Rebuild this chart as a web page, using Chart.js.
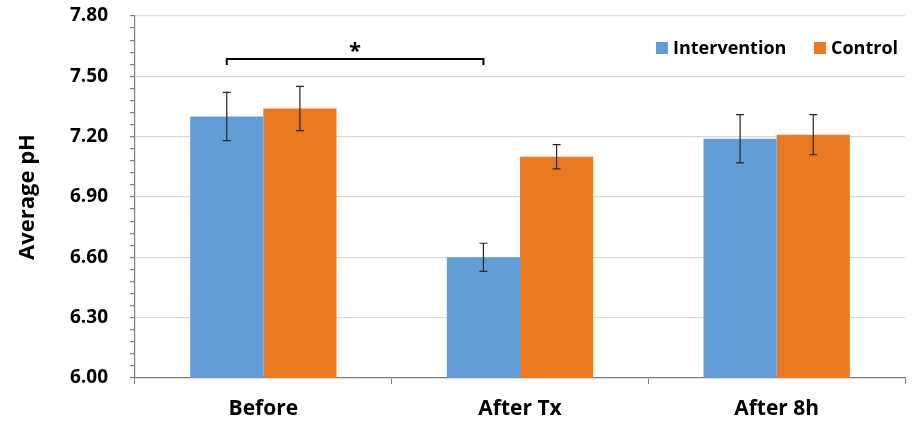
<!DOCTYPE html>
<html>
<head>
<meta charset="utf-8">
<script src="https://cdn.jsdelivr.net/npm/chart.js@4"></script>
<style>
  html, body { margin: 0; padding: 0; background: #fff; }
  #wrap { width: 912px; height: 425px; }
</style>
</head>
<body>
<div id="wrap"><canvas id="chart" width="912" height="425"></canvas></div>
<script>
/* pH before / after treatment, intervention vs control */
const categories = ["Before", "After Tx", "After 8h"];
const intervention = [7.30, 6.60, 7.19];
const interventionErr = [0.12, 0.07, 0.12];
const control = [7.34, 7.10, 7.21];
const controlErr = [0.11, 0.06, 0.10];
const yMin = 6.0, yMax = 7.8, yMajor = 0.3, yMinor = 0.06;

const FONT = "'Open Sans', 'DejaVu Sans', sans-serif";
const BLUE = "#639dd6";
const ORANGE = "#ea7a22";

const isMajor = (v) => Math.abs((v - yMin) / yMajor - Math.round((v - yMin) / yMajor)) < 1e-6;

/* ---------- error bars ---------- */
const errorBars = {
  id: "errorBars",
  afterDatasetsDraw(chart) {
    const { ctx } = chart;
    const y = chart.scales.y;
    ctx.save();
    ctx.strokeStyle = "#262626";
    ctx.lineWidth = 1.2;
    chart.data.datasets.forEach((ds, i) => {
      chart.getDatasetMeta(i).data.forEach((bar, j) => {
        const v = ds.data[j], e = ds.err[j];
        const top = y.getPixelForValue(v + e), bot = y.getPixelForValue(v - e);
        ctx.beginPath();
        ctx.moveTo(bar.x, top); ctx.lineTo(bar.x, bot);
        ctx.moveTo(bar.x - 4, top); ctx.lineTo(bar.x + 4, top);
        ctx.moveTo(bar.x - 4, bot); ctx.lineTo(bar.x + 4, bot);
        ctx.stroke();
      });
    });
    ctx.restore();
  },
};

/* ---------- significance bracket + legend ---------- */
const extras = {
  id: "extras",
  afterDraw(chart) {
    const { ctx, chartArea } = chart;
    const bars = chart.getDatasetMeta(0).data;
    const x1 = bars[0].x, x2 = bars[1].x;
    const by = chartArea.top + 43;
    ctx.save();
    ctx.strokeStyle = "#000";
    ctx.lineWidth = 2;
    ctx.beginPath();
    ctx.moveTo(x1, by + 6); ctx.lineTo(x1, by); ctx.lineTo(x2, by); ctx.lineTo(x2, by + 6);
    ctx.stroke();
    ctx.fillStyle = "#000";
    ctx.font = "bold 22px " + FONT;
    ctx.textAlign = "center";
    ctx.textBaseline = "middle";
    ctx.fillText("*", (x1 + x2) / 2, by - 7);

    // legend
    ctx.font = "bold 18px " + FONT;
    ctx.textAlign = "left";
    const ly = chartArea.top + 32;
    const items = [["Intervention", BLUE, 656], ["Control", ORANGE, 814]];
    items.forEach(([label, color, x]) => {
      ctx.fillStyle = color;
      ctx.fillRect(x, ly - 6, 12, 12);
      ctx.fillStyle = "#000";
      ctx.fillText(label, x + 17, ly + 1);
    });
    ctx.restore();
  },
};

new Chart(document.getElementById("chart"), {
  type: "bar",
  data: {
    labels: categories,
    datasets: [
      { label: "Intervention", data: intervention, err: interventionErr, backgroundColor: BLUE,
        categoryPercentage: 0.57, barPercentage: 1.0 },
      { label: "Control", data: control, err: controlErr, backgroundColor: ORANGE,
        categoryPercentage: 0.57, barPercentage: 1.0 },
    ],
  },
  options: {
    responsive: false,
    animation: false,
    layout: { padding: { top: 16, right: 7, left: 0, bottom: 0 } },
    plugins: { legend: { display: false }, tooltip: { enabled: false } },
    scales: {
      x: {
        grid: { drawOnChartArea: false, drawTicks: true, tickLength: 6, tickColor: "#7f7f7f" },
        border: { color: "#7f7f7f", width: 1.2 },
        ticks: { color: "#000", font: { family: FONT, size: 21, weight: "bold" }, padding: 12 },
        afterFit: (s) => { s.height = 47; s.paddingLeft = 0; s.paddingRight = 0; },
      },
      y: {
        min: yMin, max: yMax,
        ticks: {
          stepSize: yMinor, autoSkip: false, padding: 22,
          color: "#000", font: { family: FONT, size: 19, weight: "bold" },
          callback: (v) => (isMajor(v) ? v.toFixed(2) : ""),
        },
        grid: {
          color: (c) => (c.tick && isMajor(c.tick.value) ? "#d9d9d9" : "rgba(0,0,0,0)"),
          tickColor: "#7f7f7f", tickLength: 5, lineWidth: 1.2,
        },
        border: { color: "#7f7f7f", width: 1.2 },
        title: { display: true, text: "Average pH", color: "#000",
          font: { family: FONT, size: 22, weight: "bold" }, padding: { top: 15, bottom: 4 } },
        afterFit: (s) => { s.width = 135; s.paddingTop = 0; s.paddingBottom = 0; },
      },
    },
  },
  plugins: [errorBars, extras],
});
</script>
</body>
</html>
